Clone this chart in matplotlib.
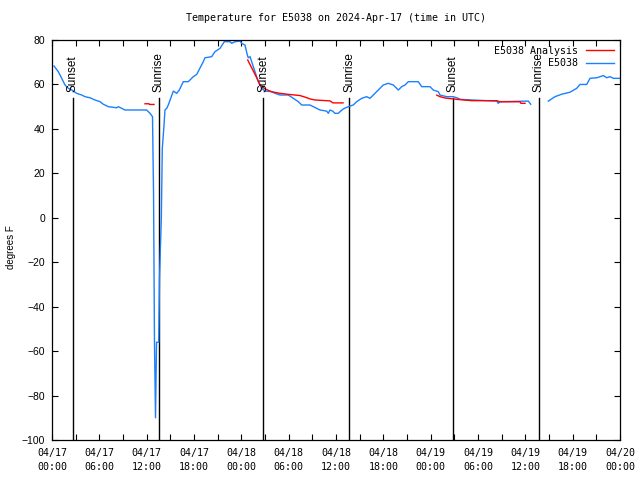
import matplotlib
matplotlib.use("Agg")
import matplotlib.pyplot as plt
import matplotlib.dates as mdates
import numpy as np
import pandas as pd

start = pd.Timestamp("2024-04-17 00:00")

# Observed temperature (hours since 04/17 00:00 UTC, degrees F)
obs_hours = [0.25, 0.80, 1.23, 1.65, 2.07, 2.50, 3.13, 3.76, 4.18, 4.82, 5.45, 6.08, 6.50, 7.14,
             8.20, 8.40, 8.84, 9.25, 12.00, 12.42, 12.74, 12.87, 12.99, 13.12, 13.25, 13.53,
             13.63, 13.73, 13.86, 13.98, 14.20, 14.32, 14.54, 14.74, 15.38, 15.81, 16.14, 16.64,
             17.28, 17.91, 18.34, 19.18, 19.39, 20.24, 20.66, 21.30, 21.84, 22.56, 22.78, 23.20,
             23.83, 24.05, 24.46, 24.76, 24.88, 25.10, 25.31, 25.73, 26.15, 26.58, 27.00, 27.85,
             28.27, 28.90, 29.95, 30.59, 31.22, 31.65, 32.70, 33.12, 33.97, 34.82, 35.02, 35.24,
             35.58, 35.87, 36.29, 36.51, 36.93, 37.56, 38.19, 38.62, 39.26, 39.89, 40.31, 40.94,
             41.36, 41.99, 42.63, 43.26, 43.90, 44.33, 44.75, 45.17, 46.43, 46.86, 47.92, 48.33,
             48.97, 49.18, 50.03, 50.87, 51.50, 51.72, 53.20, 56.37, 56.57, 56.79, 60.38, 60.68,
             61.50, 62.91, 63.76, 64.61, 65.66, 66.51, 66.93, 67.78, 68.20, 69.05, 69.89, 70.32,
             70.73, 71.16, 72.00]
obs_temp = [68.3, 65.75, 62.75, 59.75, 58.25, 57.5, 56.0, 55.25, 54.5, 54.0, 53.0, 52.25, 51.1, 50.0,
            49.5, 50.0, 49.25, 48.5, 48.5, 47.0, 45.5, 11.6, -55.9, -90.0, -56.0, -56.0,
            -27.0, -15.0, 0.0, 31.0, 41.7, 48.5, 49.25, 50.75, 57.0, 56.0, 57.5, 61.25,
            61.25, 63.5, 64.5, 70.25, 72.0, 72.5, 74.75, 76.25, 79.25, 79.25, 78.5, 79.25,
            79.5, 78.5, 77.75, 73.25, 72.0, 72.5, 70.25, 65.75, 61.25, 58.25, 57.0, 56.75,
            56.0, 55.25, 55.25, 53.75, 52.25, 50.75, 50.75, 50.0, 48.5, 48.0, 47.0, 48.5,
            48.0, 47.0, 47.0, 47.75, 49.0, 50.0, 50.75, 52.25, 53.75, 54.5, 53.75, 56.0,
            57.5, 59.75, 60.5, 59.75, 57.5, 59.0, 59.75, 61.25, 61.25, 59.0, 59.0, 57.5,
            56.75, 55.25, 54.5, 54.5, 53.75, 53.3, 53.0, 52.5, 51.5, 52.25, 52.5, 51.1,
            np.nan, 52.5, 54.5, 55.6, 56.5, 58.25, 60.0, 60.0, 62.75, 63.0, 64.0, 63.0,
            63.5, 62.75, 62.75]

# Analysis temperature
ana_hours = [11.79, 12.30, 12.36, 12.93, 13.2,
             24.81, 25.95, 26.37, 27.00, 27.85, 28.90, 29.79, 31.44, 32.07, 32.70, 33.34, 35.24,
             35.62, 36.89, 37.2,
             48.77, 49.18, 49.82, 51.30, 53.20, 56.37, 56.79, 59.32, 59.44, 59.96]
ana_temp = [51.3, 51.3, 51.0, 51.0, np.nan,
            71.0, 63.0, 59.7, 58.0, 56.7, 56.0, 55.6, 55.0, 54.3, 53.5, 53.0, 52.6,
            51.7, 51.7, np.nan,
            55.2, 54.5, 53.9, 53.3, 52.7, 52.7, 52.2, 52.2, 51.5, 51.5]

# Sun events (hours since start)
sun_hours = [2.66, 13.56, 26.75, 37.65, 50.83, 61.73]
sun_labels = ["Sunset", "Sunrise", "Sunset", "Sunrise", "Sunset", "Sunrise"]
sun_line_top = 54

title = "Temperature for E5038 on 2024-Apr-17 (time in UTC)"
ylabel = "degrees F"

def to_time(h):
    return start + pd.to_timedelta(np.asarray(h, dtype=float), unit="h")

mono = "DejaVu Sans Mono"
sans = "Liberation Sans"

fig = plt.figure(figsize=(6.4, 4.8), dpi=100)
ax = fig.add_axes([52/640, 40/480, 568/640, 400/480])

for h, lab in zip(sun_hours, sun_labels):
    t = to_time([h])[0]
    ax.plot([t, t], [-100, sun_line_top], color="black", lw=1.0, zorder=1)
    ax.text(t, 56.5, lab, rotation=90, ha="center", va="bottom",
            fontsize=8.5, family=sans, zorder=4)

ax.plot(to_time(ana_hours), ana_temp, color="#ff0000", lw=1.0, label="E5038 Analysis", zorder=3)
ax.plot(to_time(obs_hours), obs_temp, color="#1a80ff", lw=1.0, label="E5038", zorder=2)

ax.set_xlim(start, start + pd.Timedelta(hours=72))
ax.set_ylim(-100, 80)
ax.set_yticks(np.arange(-100, 81, 20))
ax.xaxis.set_major_locator(mdates.HourLocator(byhour=[0, 6, 12, 18]))
ax.xaxis.set_minor_locator(mdates.HourLocator(byhour=[3, 9, 15, 21]))
ax.xaxis.set_major_formatter(mdates.DateFormatter("%m/%d\n%H:%M"))

ax.tick_params(axis="both", which="both", direction="in", top=True, right=True,
               length=4, width=0.8)
ax.tick_params(axis="x", which="major", pad=6)
ax.tick_params(axis="y", pad=5)
for lbl in ax.get_xticklabels():
    lbl.set_family(mono)
    lbl.set_fontsize(7.2)
    lbl.set_linespacing(1.45)
for lbl in ax.get_yticklabels():
    lbl.set_family(sans)
    lbl.set_fontsize(7.5)
for s in ax.spines.values():
    s.set_linewidth(0.9)

ax.set_title(title, family=mono, fontsize=7.2, pad=14)
fig.text(11/640, 1 - 247/480, ylabel, rotation=90, ha="center", va="center",
         family=sans, fontsize=7)

leg = ax.legend(loc="upper right", markerfirst=False, frameon=False,
                prop={"family": mono, "size": 7.2}, handlelength=2.8,
                handletextpad=0.8, labelspacing=0.25, borderaxespad=0.2)
leg.set_zorder(5)

fig.savefig("out.png", dpi=100)
